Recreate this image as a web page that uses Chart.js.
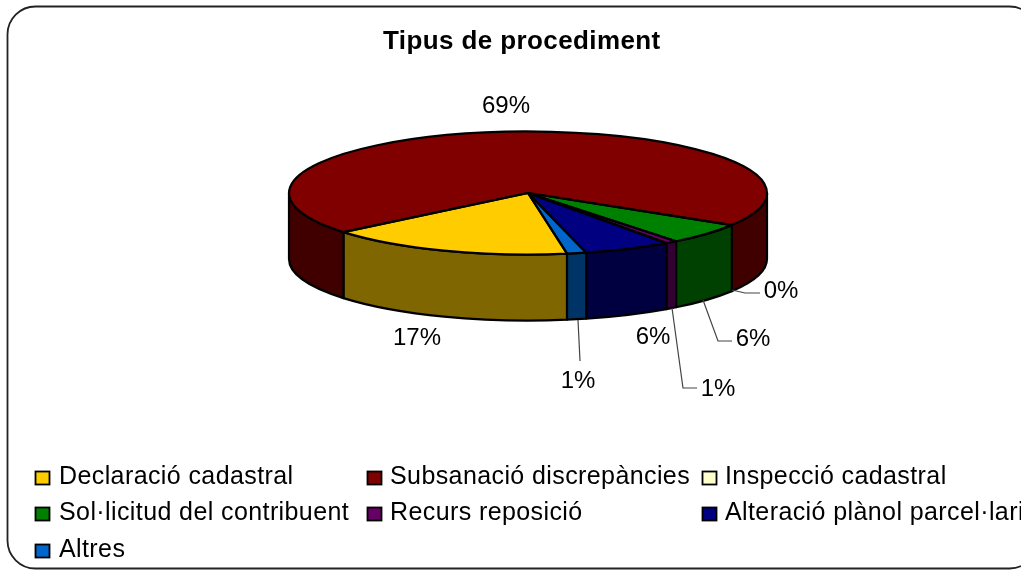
<!DOCTYPE html>
<html><head><meta charset="utf-8">
<style>html,body{margin:0;padding:0;background:#fff}#wrap{position:absolute;left:0;top:0;width:1021px;height:570px}</style>
<script src="https://cdn.jsdelivr.net/npm/chart.js@4"></script>
</head><body><div id="wrap"><canvas id="c" width="1021" height="570"></canvas></div>
<script>
const titleText = 'Tipus de procediment';
const categories = ['Declaració cadastral','Subsanació discrepàncies','Inspecció cadastral','Sol·licitud del contribuent','Recurs reposició','Alteració plànol parcel·lari','Altres'];
const values = [16.6, 69.49, 0, 5.6, 0.8, 5.9, 1.3];
const topColors = ['#FFCC00','#800000','#FFFFCC','#008000','#660066','#000080','#0066CC'];
const wallColors = ['#806600','#400000','#808066','#004000','#330033','#000040','#003366'];

const FONT = '"Liberation Sans", Arial, sans-serif';
const view = {cx:528, cy:193, rx:239, ry:61.5, depth:66};
const dataLabels = [
  {x:417,y:338},{x:506,y:106},{x:781,y:291,line:[[732,290],[745,293],[760,293]]},
  {x:753,y:339,line:[[703,300],[718,341],[732,341]]},
  {x:718,y:389,line:[[672,308],[683,388],[697,388]]},
  {x:653,y:337},{x:578,y:381,line:[[578,320],[580,361]]}
];
const legendPos = [[35,484],[367,484],[702,484],[35,520],[367,520],[702,520],[35,557]];
const legendTextOffset = [24,23,23,24,23,23,24];

function ellipsePath(ctx,a0,a1,dy,ccw){ctx.ellipse(view.cx,view.cy+dy,view.rx,view.ry,0,a0,a1,!!ccw);}
const pie3d = {
  id:'pie3d',
  beforeDraw(chart){
    const ctx=chart.ctx;ctx.save();
    ctx.beginPath();ctx.roundRect(7.5,6.5,1030,562,28);
    ctx.strokeStyle='#222';ctx.lineWidth=1.8;ctx.stroke();ctx.restore();
  },
  beforeDatasetDraw(chart,args){
    const ctx=chart.ctx, arcs=args.meta.data;
    const ctr=arcs[0];
    ctx.save();
    ctx.lineWidth=2.2;ctx.strokeStyle='#000';ctx.lineJoin='round';
    const TAU=Math.PI*2;
    arcs.forEach((el,i)=>{
      if(el.endAngle-el.startAngle<=0) return;
      for(let k=-1;k<=2;k++){
        const lo=Math.max(el.startAngle,k*TAU), hi=Math.min(el.endAngle,k*TAU+Math.PI);
        if(hi>lo){
          ctx.beginPath();
          ellipsePath(ctx,lo,hi,0);
          ellipsePath(ctx,hi,lo,view.depth,true);
          ctx.closePath();
          ctx.fillStyle=wallColors[i];ctx.fill();ctx.stroke();
        }
      }
    });
    ctx.restore();
    ctx.save();
    ctx.translate(view.cx,view.cy);
    ctx.scale(view.rx/ctr.outerRadius,view.ry/ctr.outerRadius);
    ctx.translate(-ctr.x,-ctr.y);
  },
  afterDatasetDraw(chart,args){
    const ctx=chart.ctx, arcs=args.meta.data;
    ctx.restore();
    ctx.save();
    ctx.lineWidth=2.2;ctx.strokeStyle='#000';ctx.lineJoin='round';
    arcs.forEach(el=>{
      if(el.endAngle-el.startAngle<=0) return;
      ctx.beginPath();ctx.moveTo(view.cx,view.cy);
      ellipsePath(ctx,el.startAngle,el.endAngle,0);
      ctx.closePath();ctx.stroke();
    });
    ctx.restore();
  },
  afterDraw(chart){
    const ctx=chart.ctx;
    ctx.save();
    ctx.fillStyle='#000';ctx.textBaseline='alphabetic';ctx.textAlign='left';
    ctx.font='bold 26px '+FONT;ctx.letterSpacing='0.4px';
    ctx.fillText(titleText,383,49);
    ctx.letterSpacing='0px';
    ctx.font='24px '+FONT;ctx.textAlign='center';ctx.textBaseline='middle';
    ctx.strokeStyle='#444';ctx.lineWidth=1.2;
    values.forEach((v,i)=>{
      const d=dataLabels[i];
      if(d.line){ctx.beginPath();d.line.forEach((p,j)=>j?ctx.lineTo(p[0],p[1]):ctx.moveTo(p[0],p[1]));ctx.stroke();}
      ctx.fillStyle='#000';
      ctx.fillText(Math.round(v)+'%',d.x,d.y);
    });
    ctx.textAlign='left';ctx.textBaseline='alphabetic';ctx.font='25px '+FONT;ctx.letterSpacing='0.4px';
    categories.forEach((c,i)=>{
      const [x,y]=legendPos[i];
      ctx.fillStyle=topColors[i];ctx.fillRect(x+.5,y-12.5,14,13);
      ctx.strokeStyle='#000';ctx.lineWidth=1.8;ctx.strokeRect(x+.5,y-12.5,14,13);
      ctx.fillStyle='#000';
      ctx.fillText(c,x+legendTextOffset[i],y);
    });
    ctx.restore();
  }
};
new Chart(document.getElementById('c'),{
  type:'pie',
  data:{labels:categories,datasets:[{data:values,backgroundColor:topColors,borderWidth:0,clip:false}]},
  options:{
    responsive:false,animation:false,rotation:170.6,
    layout:{padding:{left:289,right:254,top:46,bottom:46}},
    plugins:{legend:{display:false},title:{display:false},tooltip:{enabled:false}}
  },
  plugins:[pie3d]
});
</script></body></html>
